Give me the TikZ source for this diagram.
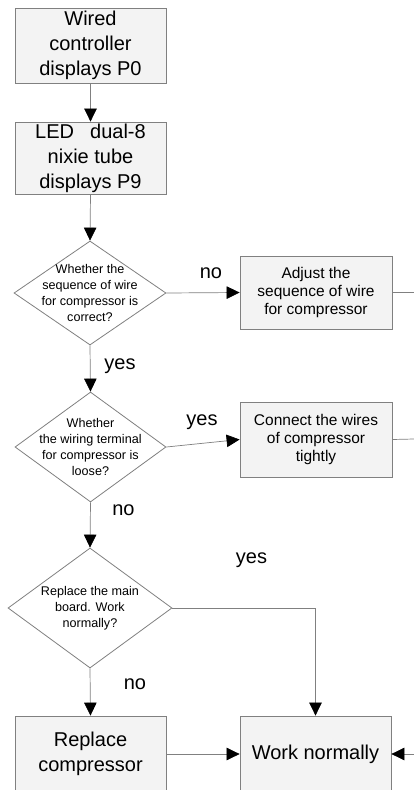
\documentclass[tikz,border=0pt]{standalone}
\usepackage{fontspec}
\setmainfont{Liberation Sans}
\usetikzlibrary{arrows.meta,shapes.geometric}
\definecolor{edgecol}{HTML}{808080}
\definecolor{boxfill}{HTML}{F3F3F3}
\begin{document}
\begin{tikzpicture}[x=1pt,y=-1pt,
  box/.style={draw=edgecol, fill=boxfill, line width=0.8pt, inner sep=0pt, align=center},
  bigtext/.style={font=\fontsize{20}{25}\selectfont},
  midtext/.style={font=\fontsize{15.5}{18}\selectfont},
  dia/.style={draw=edgecol, fill=white, line width=0.8pt, shape=diamond, inner sep=0pt},
  dtext/.style={align=center, inner sep=0pt, font=\fontsize{12.6}{16}\selectfont},
  lbl/.style={anchor=base, inner sep=0pt, font=\fontsize{20}{24}\selectfont},
  conn/.style={draw=edgecol, line width=0.7pt, -{Triangle[black,length=13pt,width=12.5pt]}},
  plain/.style={draw=edgecol, line width=0.7pt}
]
\clip (0,0) rectangle (414,790);
\fill[white] (0,0) rectangle (414,790);

% boxes
\node[box, bigtext, minimum width=151pt, minimum height=75pt] (b1) at (90.5,45.5) {Wired\\controller\\displays P0};
\node[box, bigtext, minimum width=151pt, minimum height=72pt] (b2) at (90.5,158) {LED\hspace{16pt}dual-8\\nixie tube\\displays P9};
\node[box, midtext, minimum width=152pt, minimum height=73pt] (b3) at (316,292.5) {Adjust the\\sequence of wire\\for compressor};
\node[box, midtext, minimum width=152pt, minimum height=75pt] (b4) at (316,439.5) {Connect the wires\\of compressor\\tightly};
\node[box, bigtext, minimum width=151pt, minimum height=76pt] (b5) at (90.5,754) {Replace\\compressor};
\node[box, bigtext, minimum width=151pt, minimum height=76pt] (b6) at (315.5,754) {Work normally};

% diamonds
\node[dia, minimum width=152pt, minimum height=104pt] (d1) at (90,293) {};
\node[dtext] (t1) at (d1.center) {Whether the\\sequence of wire\\for compressor is\\correct?};
\node[dia, minimum width=151pt, minimum height=110pt] (d2) at (90.5,447) {};
\node[dtext] (t2) at (d2.center) {Whether\\the wiring terminal\\for compressor is\\loose?};
\node[dia, minimum width=164pt, minimum height=120pt] (d3) at (90,608) {};
\node[dtext] (t3) at (d3.center) {Replace the main\\board. Work\\normally?};

% edge coordinates (line continues beyond the picture)
\coordinate (e1) at (414,292.5);
\coordinate (e2) at (414,439);
\coordinate (e3) at (414,754);

% connectors
\draw[conn] (b1.south) -- (b2.north);
\draw[conn] (b2.south) -- (d1.north);
\draw[conn] (d1.east) -- (b3.west);
\draw[conn] (d1.south) -- (d2.north);
\draw[conn] (d2.east) -- (b4.west);
\draw[conn] (d2.south) -- (d3.north);
\draw[conn] (d3.east) -| (b6.north);
\draw[conn] (d3.south) -- (b5.north);
\draw[conn] (b5.east) -- (b6.west);
\draw[plain] (b3.east) -- (e1);
\draw[plain] (b4.east) -- (e2);
\draw[conn] (e3) -- (b6.east);

% labels
\node[lbl] (l1) at (211,278) {no};
\node[lbl] (l2) at (120,369) {yes};
\node[lbl] (l3) at (202,425) {yes};
\node[lbl] (l4) at (123.5,515) {no};
\node[lbl] (l5) at (251.5,563) {yes};
\node[lbl] (l6) at (135,689) {no};
\end{tikzpicture}
\end{document}
